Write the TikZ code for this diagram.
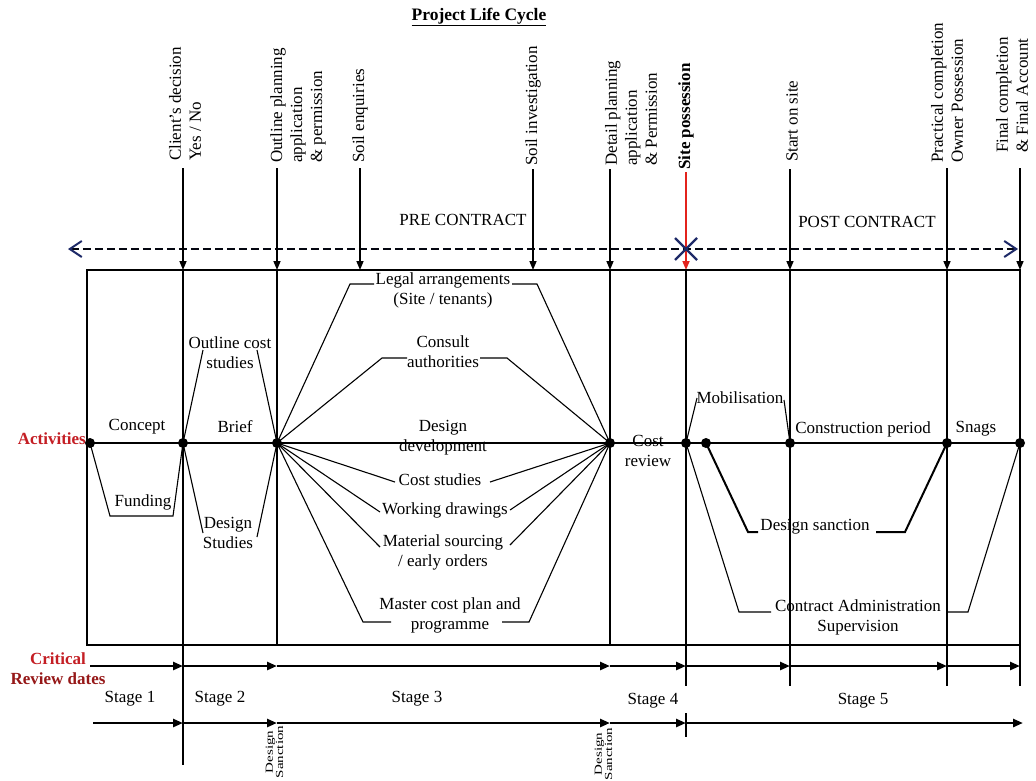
\documentclass[tikz,border=0pt]{standalone}
\usepackage{fontspec}
\setmainfont{Liberation Serif}
\usetikzlibrary{arrows.meta,positioning,calc}
\definecolor{navyline}{HTML}{1E2A68}
\definecolor{actred}{HTML}{C41E24}
\definecolor{revred}{HTML}{961818}
\definecolor{possred}{HTML}{E3231C}
\newcommand{\lblfont}{\fontsize{17}{20}\selectfont}
\tikzset{
  lbl/.style={inner sep=1pt, align=center, font=\lblfont},
  boldlbl/.style={lbl, font=\lblfont\bfseries},
  mslbl/.style={inner sep=0pt, rotate=90, anchor=west, align=left, font=\lblfont},
  dslbl/.style={inner sep=0pt, rotate=90, font=\fontsize{15}{14}\selectfont},
  fanline/.style={line width=1.1pt},
  boxline/.style={line width=1.1pt},
  actline/.style={line width=2.8pt},
  msarr/.style={-{Triangle[length=9pt,width=7pt]}, line width=1.5pt},
  rowarr/.style={-{Triangle[length=10pt,width=8pt]}, line width=2.6pt},
  dasharr/.style={{Straight Barb[length=12pt,width=16pt,line width=2pt,color=navyline]}-{Straight Barb[length=12pt,width=16pt,line width=2pt,color=navyline]},
                  dash pattern=on 8pt off 4pt, line width=2.4pt, color=black!85!navyline}}

\begin{document}
\begin{tikzpicture}[x=1pt, y=-1pt]
  \useasboundingbox (0,0) rectangle (1036,780);
  \fill[white] (0,0) rectangle (1036,780);
  % points on the activity line and reference levels
  \foreach \n/\x in {0/90,1/183,2/277,3/610,4/686,5/706,6/790,7/947,8/1020}
    \coordinate (d\n) at (\x,443);
  \coordinate (top) at (87,270);
  \coordinate (bot) at (87,645);
  \coordinate (foot) at (87,686);
  \coordinate (low) at (87,765);
  \coordinate (pl) at (68,249);
  \coordinate (pr) at (1018,249);

  % title, milestones
  \node[boldlbl, font=\fontsize{17.5}{20}\selectfont\bfseries] (title) at (479,17) {\underline{Project Life Cycle}};
  \node[mslbl] (client) at (185,161) {Client’s decision\\Yes / No};
  \node[mslbl] (outline) at (298,163) {Outline planning\\application\\\& permission};
  \node[mslbl] (soilenq) at (360,163) {Soil enquiries};
  \node[mslbl] (soilinv) at (533,166) {Soil investigation};
  \node[mslbl] (detail) at (631,166) {Detail planning\\application\\\& Permission};
  \node[mslbl, font=\lblfont\bfseries] (sitepos) at (686,170) {Site possession};
  \node[mslbl] (start) at (792,162) {Start on site};
  \node[mslbl] (practical) at (947,163) {Practical completion\\Owner Possession};
  \node[mslbl] (final) at (1012,153) {Final completion\\\& Final Account};
  \node[lbl] (pre) at (463,220) {PRE CONTRACT};
  \node[lbl] (post) at (867,222) {POST CONTRACT};

  \draw[dasharr] (pl) -- (pr);
  \draw[msarr] ([yshift=-7pt]client.west -| d1) -- (d1 |- top);
  \draw[msarr] ([yshift=-5pt]outline.west -| d2) -- (d2 |- top);
  \draw[msarr] ([yshift=-5pt]soilenq.west) -- (soilenq.west |- top);
  \draw[msarr] ([yshift=-3pt]soilinv.west) -- (soilinv.west |- top);
  \draw[msarr] ([yshift=-3pt]detail.west -| d3) -- (d3 |- top);
  \draw[msarr, color=possred, line width=1.6pt] ([yshift=-2pt]sitepos.west -| d4) -- (d4 |- top);
  \draw[msarr] ([yshift=-7pt]start.west -| d6) -- (d6 |- top);
  \draw[msarr] ([yshift=-5pt]practical.west -| d7) -- (d7 |- top);
  \draw[msarr] ([yshift=-15pt]final.west -| d8) -- (d8 |- top);
  \draw[navyline, line width=2.4pt] ($(d4 |- pl)+(-11,-11)$) -- ($(d4 |- pl)+(11,11)$)
                                    ($(d4 |- pl)+(-11,11)$) -- ($(d4 |- pl)+(11,-11)$);

  % frame and stage dividers
  \draw[boxline] (top) rectangle (d8 |- bot);
  \draw[boxline] (d1 |- top) -- (d1 |- low);
  \draw[boxline] (d2 |- top) -- (d2 |- bot);
  \draw[boxline] (d3 |- top) -- (d3 |- bot);
  \foreach \n in {4,6,7,8}
    \draw[boxline] (d\n |- top) -- (d\n |- foot);
  \draw[boxline] ([yshift=-27pt]d4 |- foot) -- ([yshift=-51pt]d4 |- foot);

  % activities
  \node[boldlbl, text=actred, anchor=east] (act) at (87,439) {Activities};
  \draw[actline] (d0) -- (d3);
  \draw[line width=1.4pt] (d3) -- (d4);
  \draw[actline] (d4) -- (d8);

  \node[lbl] (concept) at (137,427) {Concept};
  \node[lbl] (brief) at (235,427) {Brief};
  \node[lbl] (funding) at (143,502) {Funding};
  \node[lbl] (ocost) at (230,353) {Outline cost\\studies};
  \node[lbl] (dstud) at (228,533) {Design\\Studies};
  \draw[fanline] (d0) -- (110,516) -- (173,516) -- (d1);
  \draw[fanline] (d1) -- (203,350);
  \draw[fanline] (257,350) -- (d2);
  \draw[fanline] (d1) -- (203,533);
  \draw[fanline] (257,537) -- (d2);

  \node[lbl] (legal) at (443,290) {Legal arrangements\\(Site / tenants)};
  \node[lbl] (consult) at (443,352) {Consult\\authorities};
  \node[lbl] (ddev) at (443,438) {Design\\development};
  \node[lbl] (cstud) at (440,480) {Cost studies};
  \node[lbl] (work) at (445,510) {Working drawings};
  \node[lbl] (mat) at (443,552) {Material sourcing\\/ early orders};
  \node[lbl] (master) at (450,615) {Master cost plan and\\programme};
  \draw[fanline] (d2) -- (350,284) -- (374,284);
  \draw[fanline] (512,284) -- (537,284) -- (d3);
  \draw[fanline] (d2) -- (382,358) -- (407,358);
  \draw[fanline] (480,358) -- (507,358) -- (d3);
  \draw[fanline] (d2) -- (395,482);
  \draw[fanline] (490,482) -- (d3);
  \draw[fanline] (d2) -- (380,512);
  \draw[fanline] (510,510) -- (d3);
  \draw[fanline] (d2) -- (380,547);
  \draw[fanline] (510,545) -- (d3);
  \draw[fanline] (d2) -- (363,622) -- (391,622);
  \draw[fanline] (502,622) -- (529,622) -- (d3);

  \node[lbl] (review) at (648,451) {Cost\\review};
  \node[lbl] (mobil) at (740,398) {Mobilisation};
  \node[lbl] (constr) at (863,429) {Construction period};
  \node[lbl] (snags) at (976,429) {Snags};
  \node[lbl] (dsanc) at (815,527) {Design sanction};
  \node[lbl] (contract) at (858,617) {Contract Administration\\Supervision};
  \draw[fanline] (d4) -- (697,398);
  \draw[fanline] (784,400) -- (d6);
  \draw[line width=2pt] (d5) -- (748,532) -- (758,532);
  \draw[line width=2pt] (876,532) -- (905,532) -- (d7);
  \draw[fanline] (d4) -- (739,612) -- (771,612);
  \draw[fanline] (946,612) -- (968,612) -- (d8);

  \foreach \n in {0,...,8}
    \fill (d\n) circle (5pt);

  % critical review dates and stages
  \node[boldlbl] (crit) at (58,669) {\textcolor{actred}{Critical}\\\textcolor{revred}{Review dates}};
  \foreach \x [count=\i] in {90,183,277,610,686,790,947,1020}
    \coordinate (c\i) at (\x,666);
  \foreach \i [evaluate=\i as \j using int(\i+1)] in {1,...,7}
    \draw[rowarr] (c\i) -- (c\j);
  \foreach \x [count=\i] in {93,183,277,610,686,1023}
    \coordinate (t\i) at (\x,723);
  \foreach \i [evaluate=\i as \j using int(\i+1)] in {1,...,5}
    \draw[rowarr] (t\i) -- (t\j);

  \node[lbl] (stage1) at (130,699) {Stage 1};
  \node[lbl] (stage2) at (220,699) {Stage 2};
  \node[lbl] (stage3) at (417,699) {Stage 3};
  \node[lbl] (stage4) at (653,701) {Stage 4};
  \node[lbl] (stage5) at (863,701) {Stage 5};
  \node[dslbl] (sanc1) at (276,752) {\scalebox{1}[0.72]{\begin{tabular}{@{}c@{}}Design\\Sanction\end{tabular}}};
  \node[dslbl] (sanc2) at (605,754) {\scalebox{1}[0.72]{\begin{tabular}{@{}c@{}}Design\\Sanction\end{tabular}}};
\end{tikzpicture}
\end{document}
